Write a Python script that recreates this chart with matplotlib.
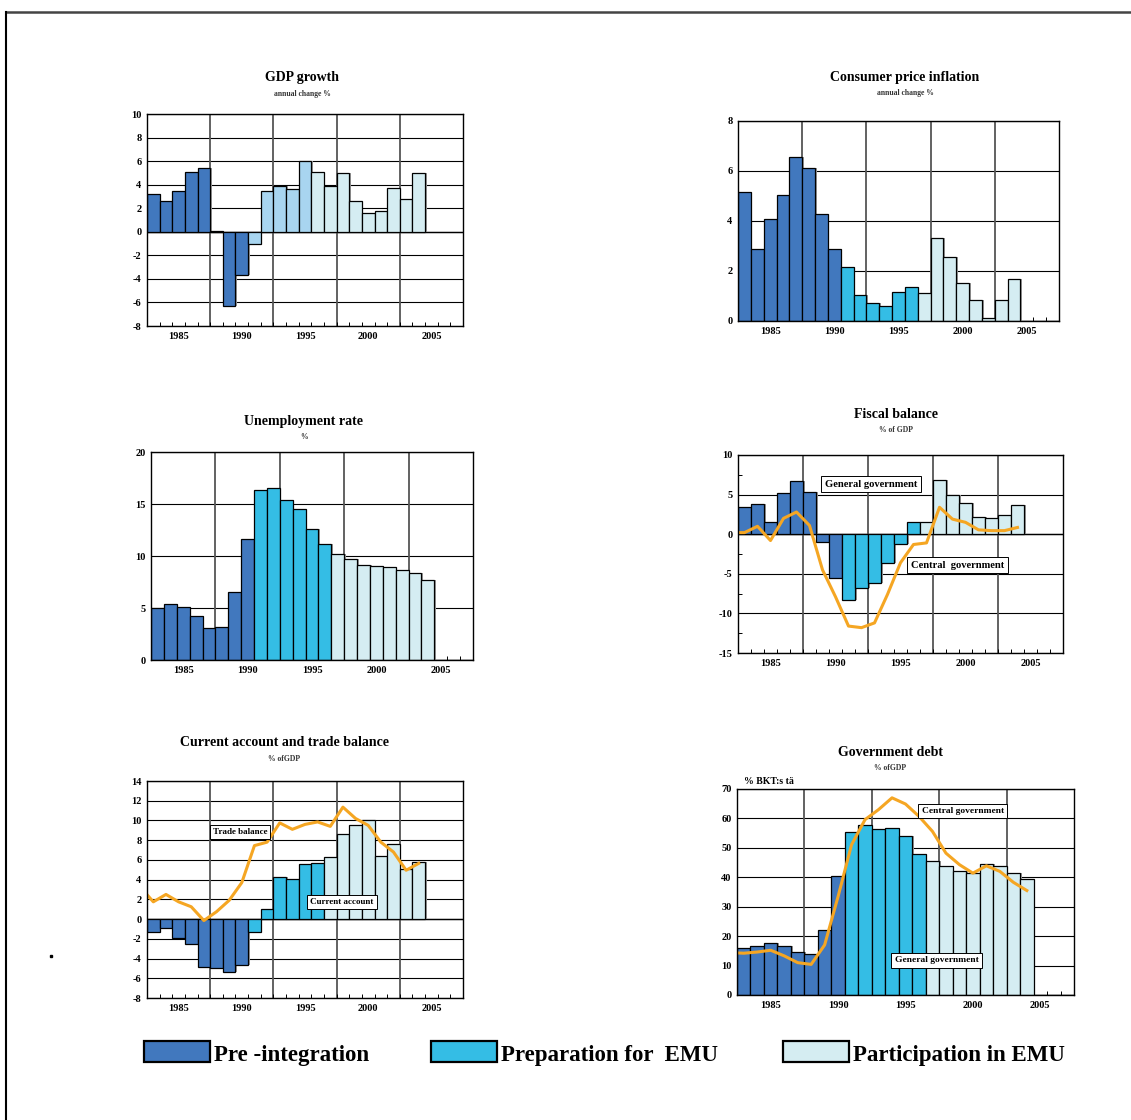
import numpy as np
import matplotlib.pyplot as plt
from matplotlib.patches import Rectangle
from matplotlib.lines import Line2D

W, H = 1131, 1120
plt.rcParams['font.family'] = ['Liberation Serif', 'DejaVu Serif']
plt.rcParams['font.weight'] = 'bold'

years = np.arange(1983, 2005)

# phase colours
dark = '#4178be'
cyan = '#34bde5'
light = '#d5edf2'
pale = '#a8d5f0'
orange = '#f5a623'

# --- data ---
gdp = [3.2, 2.6, 3.5, 5.1, 5.4, 0.1, -6.3, -3.7, -1.0, 3.5, 3.9,
       3.6, 6.0, 5.1, 3.9, 5.0, 2.6, 1.6, 1.8, 3.7, 2.8, 5.0]
cpi = [5.17, 2.9, 4.07, 5.06, 6.58, 6.13, 4.27, 2.87, 2.15, 1.04, 0.73,
       0.6, 1.15, 1.35, 1.12, 3.34, 2.56, 1.54, 0.85, 0.13, 0.83, 1.7]
unemp = [5.0, 5.36, 5.1, 4.2, 3.05, 3.15, 6.5, 11.65, 16.3, 16.5, 15.4,
         14.5, 12.6, 11.2, 10.2, 9.75, 9.1, 9.0, 8.9, 8.7, 8.4, 7.7]
gen_gov_bal = [3.4, 3.8, 1.6, 5.2, 6.7, 5.3, -1.0, -5.5, -8.3, -6.8, -6.2,
               -3.65, -1.3, 1.6, 1.6, 6.8, 4.9, 4.0, 2.2, 2.0, 2.4, 3.7]
line_years = np.arange(1982, 2005)
cen_gov_bal = [0.2, 0.2, 1.0, -0.8, 2.0, 2.8, 1.1, -4.5, -7.9, -11.6, -11.8,
               -11.2, -7.6, -3.6, -1.3, -1.1, 3.4, 1.9, 1.5, 0.55, 0.45, 0.45, 0.85]
cur_acc = [-1.35, -0.95, -1.9, -2.55, -4.9, -5.0, -5.35, -4.65, -1.3, 1.05, 4.25,
           4.05, 5.6, 5.7, 6.25, 8.65, 9.55, 10.05, 6.4, 7.65, 5.05, 5.8]
trade_bal = [3.2, 1.75, 2.5, 1.75, 1.25, -0.15, 0.75, 1.9, 3.7, 7.45, 7.8,
             9.75, 9.1, 9.6, 9.85, 9.4, 11.35, 10.2, 9.5, 7.8, 6.8, 4.95, 5.65]
gen_gov_debt = [15.9, 16.7, 17.8, 16.6, 14.5, 14.1, 22.0, 40.3, 55.3, 57.8, 56.5,
                56.75, 53.9, 48.0, 45.5, 43.7, 42.3, 41.4, 44.5, 44.0, 41.4, 39.3]
cen_gov_debt = [14.4, 14.2, 14.6, 15.2, 13.3, 11.0, 10.4, 17.0, 33.5, 51.1, 59.6,
                63.0, 67.0, 64.9, 60.7, 55.6, 48.2, 44.3, 41.4, 43.9, 42.0, 38.3, 35.5]

# phase colour per year: pre-integration to 1990, EMU preparation 1991-1996
std_colors = [dark] * 8 + [cyan] * 6 + [light] * 8
gdp_colors = [dark] * 8 + [pale] * 5 + [light] * 9

legend_labels = ['Pre -integration', 'Preparation for  EMU', 'Participation in EMU']
legend_colors = [dark, cyan, light]

fig = plt.figure(figsize=(W / 100, H / 100), dpi=100)

# frame (top and left only)
fig.add_artist(Line2D([6 / W, 1], [1 - 12 / H, 1 - 12 / H], color='#444444', lw=1.8))
fig.add_artist(Line2D([6 / W, 6 / W], [0, 1 - 12 / H], color='black', lw=1.5))
fig.add_artist(Rectangle((50 / W, 1 - 957 / H), 2 / W, 2 / H, color='black'))


def panel(box, title, subtitle, title_xy, values, colors, ylim, yticks, line=None):
    l, t, r, b = box
    ax = fig.add_axes([l / W, 1 - b / H, (r - l) / W, (b - t) / H])
    for y in yticks:
        ax.axhline(y, color='black', lw=0.8, zorder=0)
    ax.axhline(0, color='black', lw=1.0, zorder=0)
    for x in [1987.5, 1992.5, 1997.5, 2002.5]:
        ax.axvline(x, color='#555555', lw=1.3, zorder=0)
    # faint offset shadow behind the bars
    ax.bar(years + 0.12, values, width=1.0, color='#9a9a9a',
           edgecolor='none', zorder=1)
    ax.bar(years, values, width=1.0, color=colors, edgecolor='black',
           linewidth=0.9, zorder=2)
    if line is not None:
        ax.plot(line_years, line, color=orange, lw=2.2, zorder=4,
                solid_joinstyle='round')
    ax.set_xlim(1982.5, 2007.5)
    ax.set_ylim(*ylim)
    ax.set_yticks(yticks)
    ax.set_yticklabels(['{:g}'.format(v) for v in yticks])
    ax.set_xticks([1985, 1990, 1995, 2000, 2005])
    ax.set_xticks(np.arange(1983.5, 2007.5, 1.0), minor=True)
    ax.tick_params(axis='both', which='major', length=0, labelsize=7.5, pad=4)
    ax.tick_params(axis='x', which='minor', direction='in', length=3, width=0.7)
    for lab in ax.get_xticklabels() + ax.get_yticklabels():
        lab.set_fontweight('bold')
    for s in ax.spines.values():
        s.set_linewidth(1.0)
        s.set_zorder(5)
    tx, ty = title_xy
    fig.text(tx / W, 1 - ty / H, title, ha='center', va='center',
             fontsize=10, fontweight='bold')
    fig.text(tx / W, 1 - (ty + 16) / H, subtitle, ha='center', va='center',
             fontsize=5.5, fontweight='bold', color='#333333')
    return ax


def boxlabel(ax, x, y, text, size=6.5):
    ax.text(x, y, text, fontsize=size, fontweight='bold', ha='left', va='center',
            zorder=6, bbox=dict(boxstyle='square,pad=0.35', facecolor='white',
                                edgecolor='black', lw=0.7))


panel((147, 114, 463, 326), 'GDP growth', 'annual change %', (302, 78),
      gdp, gdp_colors, (-8, 10), np.arange(-8, 11, 2))

panel((738, 121, 1059, 321), 'Consumer price inflation', 'annual change %', (905, 77),
      cpi, std_colors, (0, 8), np.arange(0, 9, 2))

panel((151, 452, 473, 660), 'Unemployment rate', '%', (304, 421),
      unemp, std_colors, (0, 20), np.arange(0, 21, 5))

ax = panel((738, 455, 1063, 653), 'Fiscal balance', '% of GDP', (896, 414),
           gen_gov_bal, std_colors, (-15, 10), np.arange(-15, 11, 5), line=cen_gov_bal)
ax.set_yticks(np.arange(-15, 10.1, 2.5), minor=True)
ax.tick_params(axis='y', which='minor', direction='in', length=3, width=0.7)
boxlabel(ax, 1989.2, 6.3, 'General government', 7.6)
boxlabel(ax, 1995.8, -3.9, 'Central  government', 7.6)

ax = panel((147, 781, 463, 998), 'Current account and trade balance', '% ofGDP', (284, 743),
           cur_acc, std_colors, (-8, 14), np.arange(-8, 15, 2), line=trade_bal)
boxlabel(ax, 1987.7, 8.8, 'Trade balance')
boxlabel(ax, 1995.4, 1.7, 'Current account')

ax = panel((737, 789, 1074, 995), 'Government debt', '% ofGDP', (890, 752),
           gen_gov_debt, std_colors, (0, 70), np.arange(0, 71, 10), line=cen_gov_debt)
ax.text(1983.0, 72.6, '% BKT:s tä', fontsize=7, fontweight='bold', ha='left', va='center')
boxlabel(ax, 1996.2, 62.5, 'Central government', 6.8)
boxlabel(ax, 1994.2, 11.8, 'General government', 6.8)

# legend
leg_x = [144, 431, 783]
for x0, lab, col in zip(leg_x, legend_labels, legend_colors):
    fig.add_artist(Rectangle((x0 / W, 1 - 1062 / H), 66 / W, 21 / H,
                             facecolor=col, edgecolor='black', lw=1.6))
    fig.text((x0 + 70) / W, 1 - 1055 / H, lab, fontsize=16.5, fontweight='bold',
             ha='left', va='center')

plt.savefig('out.png', dpi=100)
